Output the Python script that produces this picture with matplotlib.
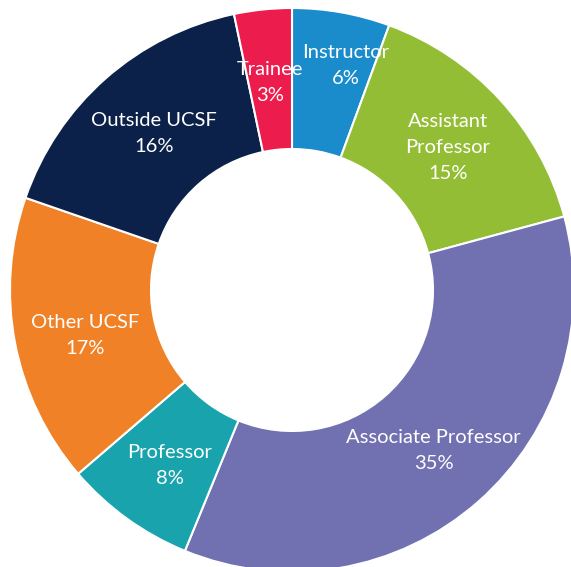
import matplotlib.pyplot as plt
import numpy as np

categories = ['Instructor', 'Assistant\nProfessor', 'Associate Professor', 'Professor',
              'Other UCSF', 'Outside UCSF', 'Trainee']
# shares measured from the slice angles; labels show the rounded percentages
shares = [5.6, 15.2, 35.4, 7.5, 16.6, 16.4, 3.3]
pct_labels = [6, 15, 35, 8, 17, 16, 3]
colors = ['#1a8ccc', '#94bd36', '#7170b1', '#18a3ad', '#f08126', '#0c2149', '#ec1c4c']

# label placement (radius, angle nudge in degrees) per slice
label_r = [0.82, 0.75, 0.76, 0.76, 0.75, 0.74, 0.74]
label_nudge = [-3.4, 0, 0, 1, 1.5, 0, 0]

fig = plt.figure(figsize=(5.71, 5.67), dpi=100)
# circle centre ~ (292, 290) px from top-left, radius ~282 px
ax = fig.add_axes([10 / 571, -5 / 567, 564 / 571, 564 / 567])

wedges, _ = ax.pie(shares, colors=colors, startangle=90, counterclock=False,
                   radius=1.0, wedgeprops=dict(width=0.5, edgecolor='white', linewidth=1.5))

for w, name, p, r, dn in zip(wedges, categories, pct_labels, label_r, label_nudge):
    ang = np.deg2rad((w.theta1 + w.theta2) / 2 + dn)
    ax.text(r * np.cos(ang), r * np.sin(ang), f'{name}\n{p}%', ha='center', va='center',
            color='white', fontsize=14.5, family='Lato', linespacing=1.65)

ax.set_xlim(-1, 1)
ax.set_ylim(-1, 1)
plt.savefig('out.png', dpi=100)
